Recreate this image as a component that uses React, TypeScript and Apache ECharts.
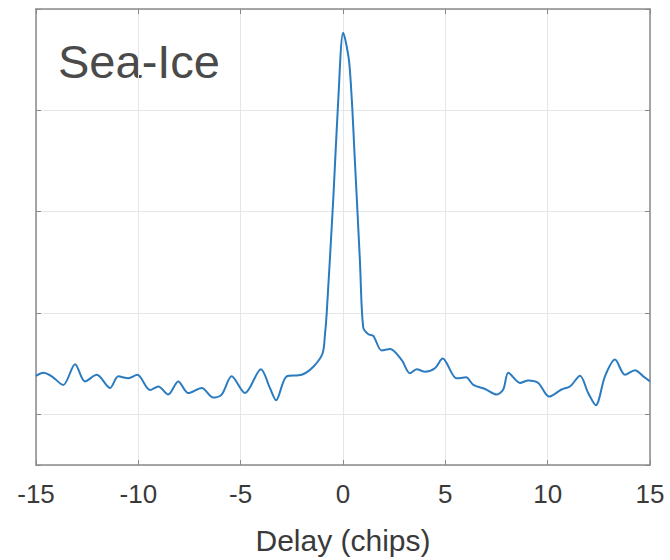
import React, { useEffect, useRef } from "react";
import * as echarts from "echarts";

const delays = [
  -15.0, -14.64, -14.23, -13.67, -13.09, -12.61, -12.03, -11.38, -10.98, -10.49,
  -10.05, -9.43, -9.02, -8.54, -8.05, -7.56, -6.9, -6.34, -5.93, -5.44,
  -4.79, -4.01, -3.57, -3.27, -2.75, -2.02, -1.45, -1.0, -0.88, -0.8,
  -0.47, -0.23, 0.01, 0.31, 0.59, 0.83, 0.99, 1.24, 1.48, 1.89,
  2.3, 2.87, 3.27, 3.6, 4.01, 4.49, 4.87, 5.55, 6.01, 6.37,
  6.94, 7.51, 7.83, 8.08, 8.65, 9.05, 9.54, 10.08, 10.68, 11.09,
  11.58, 11.98, 12.35, 12.8, 13.29, 13.78, 14.27, 14.67, 15.0,
];

const power = [
  0.276, 0.282, 0.275, 0.258, 0.299, 0.265, 0.278, 0.252, 0.275, 0.271,
  0.278, 0.248, 0.255, 0.239, 0.265, 0.242, 0.252, 0.233, 0.239, 0.275,
  0.242, 0.289, 0.252, 0.228, 0.275, 0.278, 0.294, 0.32, 0.358, 0.397,
  0.629, 0.822, 0.953, 0.892, 0.693, 0.5, 0.371, 0.358, 0.355, 0.326,
  0.329, 0.307, 0.281, 0.289, 0.284, 0.291, 0.31, 0.271, 0.273, 0.258,
  0.25, 0.239, 0.249, 0.282, 0.262, 0.267, 0.262, 0.235, 0.249, 0.255,
  0.276, 0.242, 0.218, 0.275, 0.308, 0.278, 0.287, 0.275, 0.265,
];

const xTicks = [-15, -10, -5, 0, 5, 10, 15];

export default function App() {
  const ref = useRef<HTMLDivElement>(null);
  useEffect(() => {
    if (!ref.current) return;
    const chart = echarts.init(ref.current, undefined, { renderer: "svg" });
    const axisColor = "#8a8a8a";
    const gridColor = "#e6e6e6";
    const font = "'Liberation Sans', Arial, sans-serif";
    const boxLine = { show: true, onZero: false, lineStyle: { color: axisColor, width: 1.5 } };
    const tick = { show: true, inside: true, length: 5, lineStyle: { color: axisColor } };
    chart.setOption({
      animation: false,
      grid: { left: 36, right: 20, top: 9, bottom: 88, containLabel: false },
      xAxis: [
        {
          type: "value",
          min: xTicks[0],
          max: xTicks[xTicks.length - 1],
          interval: 5,
          position: "bottom",
          axisLine: boxLine,
          axisTick: tick,
          splitLine: { show: true, lineStyle: { color: gridColor, width: 1 } },
          axisLabel: {
            show: true,
            fontSize: 26,
            color: "#3a3a3a",
            fontFamily: font,
            margin: 16,
          },
          name: "Delay (chips)",
          nameLocation: "middle",
          nameGap: 60,
          nameTextStyle: { fontSize: 30, color: "#3a3a3a", fontFamily: font },
        },
        {
          type: "value",
          min: xTicks[0],
          max: xTicks[xTicks.length - 1],
          interval: 5,
          position: "top",
          axisLine: boxLine,
          axisTick: tick,
          splitLine: { show: false },
          axisLabel: { show: false },
        },
      ],
      yAxis: [
        {
          type: "value",
          min: 0.1,
          max: 1.0,
          splitNumber: 5,
          position: "left",
          axisLine: boxLine,
          axisTick: tick,
          splitLine: { show: true, lineStyle: { color: gridColor, width: 1 } },
          axisLabel: { show: false },
        },
        {
          type: "value",
          min: 0.1,
          max: 1.0,
          splitNumber: 5,
          position: "right",
          axisLine: boxLine,
          axisTick: tick,
          splitLine: { show: false },
          axisLabel: { show: false },
        },
      ],
      graphic: [
        {
          type: "text",
          left: 58,
          top: 38,
          style: {
            text: "Sea-Ice",
            fontSize: 47,
            fill: "#4a4a4a",
            fontFamily: font,
          },
        },
      ],
      series: [
        {
          type: "line",
          xAxisIndex: 0,
          yAxisIndex: 0,
          data: delays.map((d, i) => [d, power[i]]),
          showSymbol: false,
          smooth: 0.3,
          lineStyle: { color: "#2a7bbf", width: 2 },
          itemStyle: { color: "#2a7bbf" },
        },
      ],
    });
    return () => chart.dispose();
  }, []);
  return <div ref={ref} style={{ width: 670, height: 560, position: "absolute", left: 0, top: 0 }} />;
}
